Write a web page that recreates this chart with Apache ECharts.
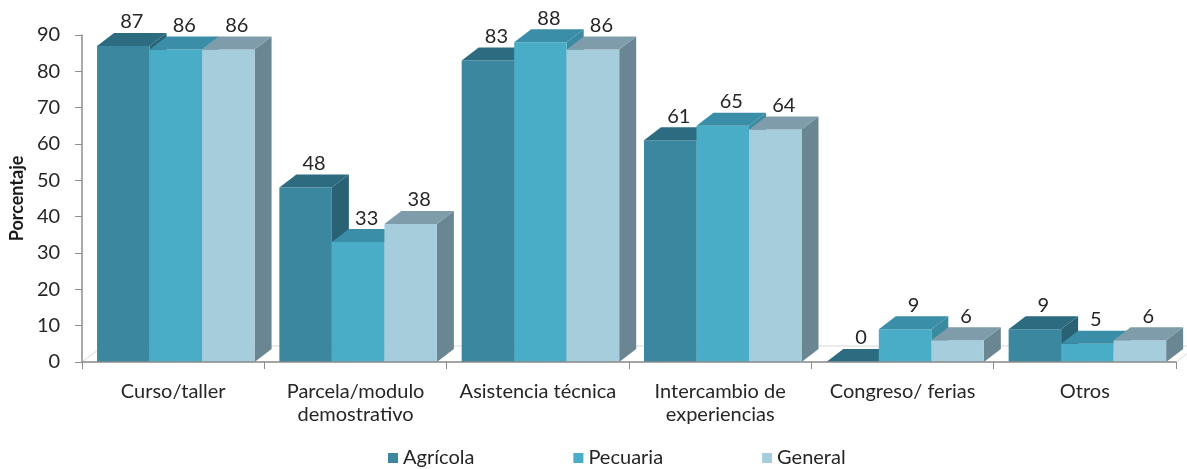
<!DOCTYPE html>
<html>
<head>
<meta charset="utf-8">
<script src="https://cdn.jsdelivr.net/npm/echarts@6/dist/echarts.min.js"></script>
<style>
html,body{margin:0;padding:0;background:#fff;}
#chart{width:1187px;height:469px;}
</style>
</head>
<body>
<div id="chart"></div>
<script>
// ---- data ----
const categories = ['Curso/taller', 'Parcela/modulo\ndemostrativo', 'Asistencia técnica', 'Intercambio de\nexperiencias', 'Congreso/ ferias', 'Otros'];
const seriesNames = ['Agrícola', 'Pecuaria', 'General'];
const agricola = [87, 48, 83, 61, 0, 9];
const pecuaria = [86, 33, 88, 65, 9, 5];
const general = [86, 38, 86, 64, 6, 6];
const yMin = 0, yMax = 90, yStep = 10;

// ---- styles ----
const FONT = 'Lato';
const palette = [
  { front: '#3A879F', top: '#2D6C80', side: '#2A6275' },
  { front: '#4AADC7', top: '#3A8EA7', side: '#3A8AA1' },
  { front: '#A6CDDB', top: '#7E9CA9', side: '#6A8693' }
];
const DX = 17, DY = -13;
const BAR_FRAC = 0.288, GAP_FRAC = 0.082;

function barSeries(name, values, s) {
  return {
    name: name,
    type: 'custom',
    itemStyle: { color: palette[s].front },
    encode: { x: 0, y: 1 },
    data: values.map((v, i) => [i, v]),
    z: 5 + s,
    renderItem: function (params, api) {
      const idx = api.value(0), val = api.value(1);
      const base = api.coord([idx, 0]);
      const top = api.coord([idx, val]);
      const band = api.size([1, 0])[0];
      const bw = band * BAR_FRAC;
      const left = base[0] - band / 2 + band * GAP_FRAC + s * bw;
      const right = left + bw;
      const yb = base[1], yt = top[1];
      const c = palette[s];
      return {
        type: 'group',
        children: [
          { type: 'polygon', shape: { points: [[right, yt], [right + DX, yt + DY], [right + DX, yb + DY], [right, yb]] }, style: { fill: c.side } },
          { type: 'rect', shape: { x: left, y: yt, width: bw, height: yb - yt }, style: { fill: c.front } },
          { type: 'polygon', shape: { points: [[left, yt], [right, yt], [right + DX, yt + DY], [left + DX, yt + DY]] }, style: { fill: c.top } },
          { type: 'text', style: { text: String(val), x: left + bw / 2 + DX / 2, y: yt + DY - 1, textAlign: 'center', textVerticalAlign: 'bottom', fill: '#262626', font: '20px ' + FONT } }
        ]
      };
    }
  };
}

const floorSeries = {
  type: 'custom',
  silent: true,
  z: 1,
  data: [[0, 0]],
  encode: { x: 0, y: 1 },
  renderItem: function (params, api) {
    const cs = params.coordSys;
    const x0 = cs.x, x1 = cs.x + cs.width, y0 = cs.y + cs.height;
    const fx = 21, fy = -16;
    return {
      type: 'polygon',
      shape: { points: [[x0, y0], [x1, y0], [x1 + fx, y0 + fy], [x0 + fx, y0 + fy]] },
      style: { fill: '#ffffff', stroke: '#d9d9d9', lineWidth: 1 }
    };
  }
};

const chart = echarts.init(document.getElementById('chart'));
chart.setOption({
  animation: false,
  backgroundColor: '#ffffff',
  grid: { left: 79, right: 11, top: 35, bottom: 107, containLabel: false },
  legend: {
    data: seriesNames,
    left: 383,
    top: 443,
    icon: 'rect',
    itemWidth: 10,
    itemHeight: 10,
    itemGap: 99,
    textStyle: { fontFamily: FONT, fontSize: 20, color: '#262626' }
  },
  xAxis: {
    type: 'category',
    data: categories,
    axisLine: { lineStyle: { color: '#8c8c8c', width: 1.5 } },
    axisTick: { show: true, length: 7, lineStyle: { color: '#8c8c8c' } },
    axisLabel: { fontFamily: FONT, fontSize: 20, color: '#262626', margin: 18, lineHeight: 23, interval: 0 },
    z: 10
  },
  yAxis: {
    type: 'value',
    min: yMin, max: yMax, interval: yStep,
    name: 'Porcentaje',
    nameLocation: 'middle',
    nameGap: 50,
    nameTextStyle: { fontFamily: FONT, fontSize: 18, fontWeight: 'bold', color: '#1a1a1a' },
    axisLine: { show: true, lineStyle: { color: '#8c8c8c', width: 1.5 } },
    axisTick: { show: true, length: 7, lineStyle: { color: '#8c8c8c' } },
    axisLabel: { fontFamily: FONT, fontSize: 20, color: '#262626', margin: 22 },
    splitLine: { show: false },
    z: 10
  },
  series: [floorSeries, barSeries(seriesNames[0], agricola, 0), barSeries(seriesNames[1], pecuaria, 1), barSeries(seriesNames[2], general, 2)]
});
</script>
</body>
</html>
